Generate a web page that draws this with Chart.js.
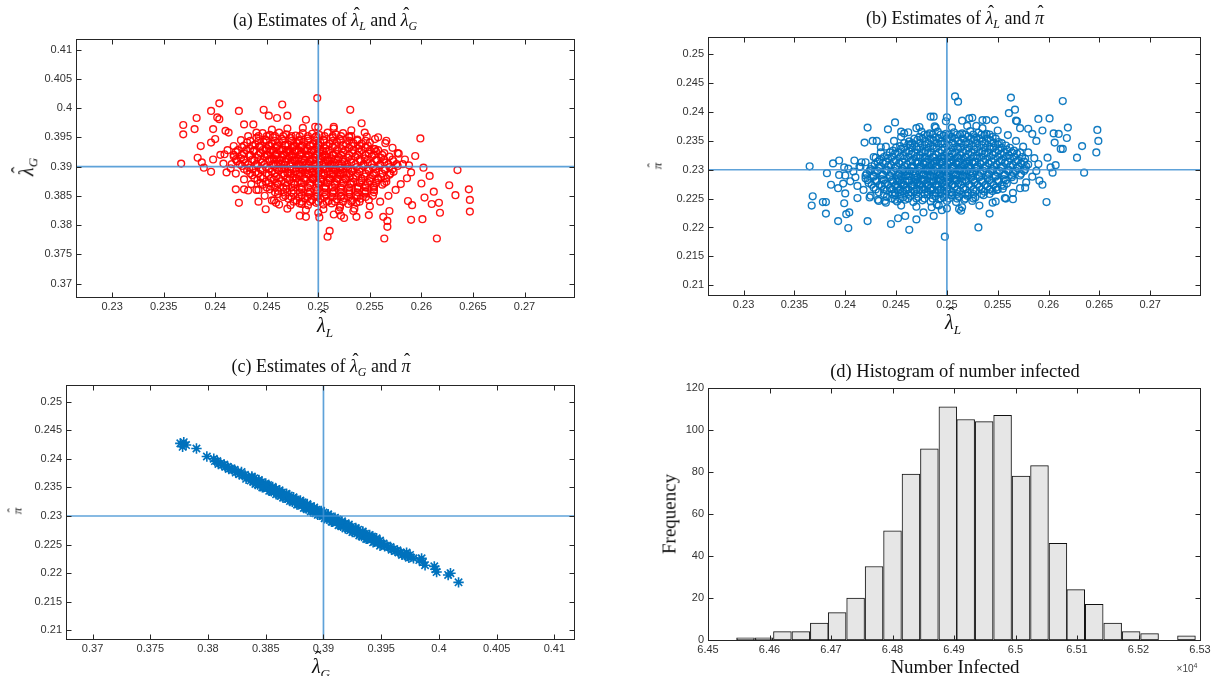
<!DOCTYPE html>
<html><head><meta charset="utf-8">
<script src="https://cdn.jsdelivr.net/npm/chart.js@4"></script>
<style>
body{margin:0;background:#fff;width:1214px;height:676px;overflow:hidden;position:relative}
canvas{position:absolute}
.t{position:absolute;white-space:nowrap;transform:translate(-50%,-50%);font-family:"Liberation Serif","DejaVu Serif",serif;color:#111;line-height:1}
.rot{transform:translate(-50%,-50%) rotate(-90deg)}
.hat{position:relative;font-style:italic}
.hat b{position:absolute;left:0.14em;top:-0.28em;font-weight:normal;font-style:normal}
sub{font-style:italic;font-size:0.66em;vertical-align:-0.32em}
.s{position:absolute;white-space:nowrap;transform:translate(-50%,-50%);font-family:"Liberation Sans",Arial,sans-serif;color:#444}
</style></head><body>
<canvas id="ca"></canvas><canvas id="cb"></canvas><canvas id="cc"></canvas><canvas id="cd"></canvas>

<div class="t" style="left:325px;top:22px;font-size:18px">(a) Estimates of <span class="hat">λ<b>ˆ</b></span><sub>L</sub> and <span class="hat">λ<b>ˆ</b></span><sub>G</sub></div>
<div class="t" style="left:955px;top:20px;font-size:18px">(b) Estimates of <span class="hat">λ<b>ˆ</b></span><sub>L</sub> and <span class="hat">π<b>ˆ</b></span></div>
<div class="t" style="left:321px;top:368px;font-size:18px">(c) Estimates of <span class="hat">λ<b>ˆ</b></span><sub>G</sub> and <span class="hat">π<b>ˆ</b></span></div>
<div class="t" style="left:955px;top:371px;font-size:18.5px">(d) Histogram of number infected</div>

<div class="t" style="left:325px;top:327px;font-size:20px"><span class="hat">λ<b>ˆ</b></span><sub>L</sub></div>
<div class="t rot" style="left:28px;top:167px;font-size:20px"><span class="hat">λ<b>ˆ</b></span><sub>G</sub></div>
<div class="t" style="left:953px;top:324px;font-size:20px"><span class="hat">λ<b>ˆ</b></span><sub>L</sub></div>
<div class="t rot" style="left:657px;top:166px;font-size:13px"><span class="hat">π<b>ˆ</b></span></div>
<div class="t" style="left:321px;top:668px;font-size:20px"><span class="hat">λ<b>ˆ</b></span><sub>G</sub></div>
<div class="t rot" style="left:17px;top:511px;font-size:13px"><span class="hat">π<b>ˆ</b></span></div>
<div class="t" style="left:955px;top:666px;font-size:19px">Number Infected</div>
<div class="t rot" style="left:669px;top:514px;font-size:19px">Frequency</div>
<div class="s" style="left:1187px;top:668px;font-size:10px">×10<sup style="font-size:7px">4</sup></div>

<script>
// ---------- tick labels ----------
const xTicksLamL = [0.23,0.235,0.24,0.245,0.25,0.255,0.26,0.265,0.27];
const ticksLamG  = [0.37,0.375,0.38,0.385,0.39,0.395,0.4,0.405,0.41];
const ticksPi    = [0.21,0.215,0.22,0.225,0.23,0.235,0.24,0.245,0.25];
const xTicksInfected = [64500,64600,64700,64800,64900,65000,65100,65200,65300];
const yTicksFreq = [0,20,40,60,80,100,120];

// ---------- true parameter values (reference lines) ----------
const trueLamL = 0.25, trueLamG = 0.39, truePi = 0.23;

// ---------- histogram (d) ----------
const binCenters = [64561,64591,64621,64651,64681,64710,64740,64770,64800,64830,64860,64890,64919,64949,64979,65009,65039,65069,65098,65128,65158,65188,65218,65248,65278];
const binCounts  = [1,1,4,4,8,13,20,35,52,79,91,111,105,104,107,78,83,46,24,17,8,4,3,0,2];

// ---------- (a) lambda_L vs lambda_G ----------
const ptsA = [
[.2367,.3905],[.2369,.3971],[.2369,.3955],[.2380,.3964],[.2382,.3983],[.2383,.3915],[.2387,.3907],[.2386,.3935],[.2389,.3898],[.2396,.3995],[.2396,.3941],[.2396,.3891],[.2398,.3964],[.2402,.3984],[.2404,.4008],[.2404,.3981],[.2400,.3947],[.2409,.3921],[.2410,.3961],[.2411,.3890],[.2413,.3958],[.2416,.3904],[.2420,.3861],[.2423,.3995],[.2423,.3838],[.2428,.3972],[.2428,.3861],[.2432,.3859],[.2437,.3972],[.2442,.3840],[.2442,.3860],[.2447,.3997],[.2449,.3827],[.2452,.3987],[.2457,.3842],[.2459,.3838],[.2460,.3983],[.2465,.4006],[.2470,.3987],[.2473,.3834],[.2482,.3816],[.2488,.3814],[.2488,.3980],[.2484,.3836],[.2499,.4017],[.2497,.3968],[.2500,.3821],[.2501,.3813],[.2509,.3780],[.2511,.3790],[.2515,.3818],[.2515,.3968],[.2521,.3830],[.2522,.3816],[.2525,.3812],[.2531,.3997],[.2532,.3952],[.2534,.3824],[.2537,.3814],[.2542,.3974],[.2547,.3951],[.2549,.3817],[.2554,.3930],[.2555,.3947],[.2563,.3814],[.2564,.3777],[.2566,.3944],[.2567,.3807],[.2567,.3797],[.2569,.3824],[.2577,.3923],[.2582,.3904],[.2587,.3841],[.2590,.3809],[.2591,.3834],[.2594,.3918],[.2599,.3948],[.2600,.3871],[.2601,.3810],[.2602,.3898],[.2603,.3847],[.2608,.3884],[.2610,.3836],[.2612,.3857],[.2615,.3777],[.2617,.3838],[.2618,.3821],[.2627,.3868],[.2633,.3851],[.2635,.3894],[.2646,.3861],[.2647,.3843],[.2647,.3823],
[.2425,.3945],[.2418,.3935],[.2412,.3928],[.2405,.3920],[.2398,.3912],[.2408,.3905],[.2415,.3897],[.2420,.3888],[.2428,.3878],[.2435,.3870],[.2440,.3860],[.2448,.3850],[.2455,.3842],[.2462,.3835],[.2470,.3828],[.2488,.3826],[.2505,.3827],[.2520,.3825],[.2535,.3828],[.2550,.3832],[.2560,.3840],[.2568,.3850],[.2575,.3860],[.2580,.3870],[.2586,.3880],[.2590,.3890],[.2588,.3902],[.2584,.3912],[.2578,.3922],[.2572,.3932],[.2565,.3940],[.2558,.3950],[.2545,.3958],[.2532,.3962],[.2515,.3965],[.2500,.3967],[.2485,.3966],[.2470,.3965],[.2455,.3963],[.2440,.3958],[.2432,.3952],
[.2446,.3957],[.2453,.3954],[.2462,.3958],[.2469,.3955],[.2478,.3953],[.2485,.3957],[.2494,.3956],[.2501,.3954],[.2509,.3958],[.2517,.3955],[.2524,.3957],
[.2440,.3949],[.2449,.3946],[.2456,.3950],[.2465,.3947],[.2473,.3949],[.2481,.3945],[.2490,.3948],[.2497,.3950],[.2505,.3946],[.2514,.3949],[.2521,.3947],[.2530,.3950],[.2538,.3946],
[.2431,.3941],[.2439,.3938],[.2447,.3942],[.2455,.3939],[.2462,.3941],[.2471,.3937],[.2479,.3940],[.2486,.3942],[.2495,.3938],[.2502,.3941],[.2511,.3939],[.2518,.3942],[.2527,.3938],[.2534,.3940],[.2542,.3939],[.2550,.3941],
[.2426,.3933],[.2434,.3930],[.2443,.3934],[.2450,.3931],[.2459,.3933],[.2466,.3929],[.2475,.3932],[.2483,.3934],[.2490,.3930],[.2499,.3933],[.2507,.3931],[.2514,.3934],[.2523,.3930],[.2530,.3932],[.2539,.3931],[.2546,.3933],[.2555,.3930],
[.2420,.3925],[.2428,.3922],[.2437,.3926],[.2444,.3923],[.2453,.3925],[.2460,.3921],[.2469,.3924],[.2477,.3926],[.2484,.3922],[.2493,.3925],[.2501,.3923],[.2508,.3926],[.2517,.3922],[.2524,.3924],[.2533,.3923],[.2540,.3925],[.2549,.3922],[.2556,.3926],[.2564,.3923],
[.2418,.3917],[.2425,.3914],[.2433,.3918],[.2441,.3915],[.2448,.3917],[.2457,.3913],[.2465,.3916],[.2472,.3918],[.2481,.3914],[.2488,.3917],[.2497,.3915],[.2504,.3918],[.2513,.3914],[.2520,.3916],[.2529,.3915],[.2536,.3917],[.2545,.3914],[.2552,.3918],[.2561,.3915],[.2569,.3917],
[.2421,.3909],[.2429,.3906],[.2438,.3910],[.2445,.3907],[.2453,.3909],[.2461,.3905],[.2468,.3908],[.2477,.3910],[.2485,.3906],[.2492,.3909],[.2501,.3907],[.2509,.3910],[.2516,.3906],[.2525,.3908],[.2532,.3907],[.2541,.3909],[.2548,.3906],[.2557,.3910],[.2564,.3907],[.2573,.3909],
[.2426,.3901],[.2433,.3898],[.2441,.3902],[.2449,.3899],[.2457,.3901],[.2464,.3897],[.2473,.3900],[.2481,.3902],[.2488,.3898],[.2497,.3901],[.2505,.3899],[.2512,.3902],[.2521,.3898],[.2528,.3900],[.2537,.3899],[.2544,.3901],[.2553,.3898],[.2560,.3902],[.2569,.3899],[.2577,.3901],
[.2431,.3893],[.2439,.3890],[.2446,.3894],[.2455,.3891],[.2462,.3893],[.2470,.3889],[.2478,.3892],[.2485,.3894],[.2494,.3890],[.2501,.3893],[.2509,.3891],[.2517,.3894],[.2524,.3890],[.2533,.3892],[.2540,.3891],[.2549,.3893],[.2556,.3890],[.2565,.3894],[.2573,.3891],
[.2436,.3885],[.2444,.3882],[.2452,.3886],[.2459,.3883],[.2467,.3885],[.2475,.3881],[.2482,.3884],[.2491,.3886],[.2498,.3882],[.2506,.3885],[.2514,.3883],[.2521,.3886],[.2530,.3882],[.2537,.3884],[.2545,.3883],[.2553,.3885],[.2561,.3882],[.2569,.3886],
[.2441,.3877],[.2449,.3874],[.2457,.3878],[.2464,.3875],[.2472,.3877],[.2480,.3873],[.2488,.3876],[.2495,.3878],[.2503,.3874],[.2511,.3877],[.2518,.3875],[.2527,.3878],[.2534,.3874],[.2542,.3876],[.2550,.3875],[.2558,.3877],[.2566,.3874],
[.2446,.3869],[.2454,.3866],[.2461,.3870],[.2469,.3867],[.2477,.3869],[.2484,.3865],[.2492,.3868],[.2500,.3870],[.2507,.3866],[.2516,.3869],[.2523,.3867],[.2531,.3870],[.2539,.3866],[.2546,.3868],[.2554,.3867],[.2562,.3869],
[.2453,.3861],[.2461,.3858],[.2469,.3862],[.2476,.3859],[.2484,.3861],[.2492,.3857],[.2499,.3860],[.2507,.3862],[.2515,.3858],[.2522,.3861],[.2530,.3859],[.2538,.3862],[.2546,.3858],[.2554,.3860],
[.2461,.3853],[.2468,.3850],[.2476,.3854],[.2484,.3851],[.2491,.3853],[.2499,.3849],[.2507,.3852],[.2514,.3854],[.2522,.3850],[.2530,.3853],[.2537,.3851],[.2545,.3854],[.2553,.3850],
[.2471,.3845],[.2479,.3842],[.2487,.3846],[.2494,.3843],[.2502,.3845],[.2510,.3841],[.2518,.3844],[.2525,.3846],[.2533,.3842],[.2541,.3845],[.2549,.3843],
[.2482,.3837],[.2490,.3834],[.2498,.3838],[.2505,.3835],[.2513,.3837],[.2521,.3833],[.2529,.3836],[.2537,.3838],
[.2452,.3936],[.2460,.3935],[.2468,.3937],[.2476,.3934],[.2484,.3936],[.2492,.3935],[.2500,.3937],
[.2449,.3928],[.2457,.3927],[.2465,.3929],[.2473,.3926],[.2481,.3928],[.2489,.3927],[.2497,.3929],[.2505,.3926],
[.2451,.3920],[.2459,.3919],[.2467,.3921],[.2475,.3918],[.2483,.3920],[.2491,.3919],[.2499,.3921],[.2507,.3918],[.2515,.3920],
[.2455,.3912],[.2463,.3911],[.2471,.3913],[.2479,.3910],[.2487,.3912],[.2495,.3911],[.2503,.3913],[.2511,.3910],[.2519,.3912],
[.2459,.3904],[.2467,.3903],[.2475,.3905],[.2483,.3902],[.2491,.3904],[.2499,.3903],[.2507,.3905],[.2515,.3902],[.2523,.3904],
[.2465,.3896],[.2473,.3895],[.2481,.3897],[.2489,.3894],[.2497,.3896],[.2505,.3895],[.2513,.3897],[.2521,.3894],[.2529,.3896],
[.2471,.3888],[.2479,.3887],[.2487,.3889],[.2495,.3886],[.2503,.3888],[.2511,.3887],[.2519,.3889],[.2527,.3886],
[.2479,.3880],[.2487,.3879],[.2495,.3881],[.2503,.3878],[.2511,.3880],[.2519,.3879]
];
// dense core of (a): rows of lambda_G with the lambda_L values read along each row
const coreRowsA = [
[.3952,[.2442,.2450,.2458,.2466,.2474,.2482,.2490,.2498,.2506,.2514,.2522,.2530]],
[.3944,[.2434,.2442,.2450,.2458,.2466,.2474,.2482,.2490,.2498,.2506,.2514,.2522,.2530,.2538,.2546]],
[.3936,[.2428,.2436,.2444,.2452,.2460,.2468,.2476,.2484,.2492,.2500,.2508,.2516,.2524,.2532,.2540,.2548]],
[.3928,[.2422,.2430,.2438,.2446,.2454,.2462,.2470,.2478,.2486,.2494,.2502,.2510,.2518,.2526,.2534,.2542,.2550,.2558]],
[.3920,[.2418,.2426,.2434,.2442,.2450,.2458,.2466,.2474,.2482,.2490,.2498,.2506,.2514,.2522,.2530,.2538,.2546,.2554,.2562]],
[.3912,[.2420,.2428,.2436,.2444,.2452,.2460,.2468,.2476,.2484,.2492,.2500,.2508,.2516,.2524,.2532,.2540,.2548,.2556,.2564,.2572]],
[.3904,[.2424,.2432,.2440,.2448,.2456,.2464,.2472,.2480,.2488,.2496,.2504,.2512,.2520,.2528,.2536,.2544,.2552,.2560,.2568,.2576]],
[.3896,[.2428,.2436,.2444,.2452,.2460,.2468,.2476,.2484,.2492,.2500,.2508,.2516,.2524,.2532,.2540,.2548,.2556,.2564,.2572]],
[.3888,[.2434,.2442,.2450,.2458,.2466,.2474,.2482,.2490,.2498,.2506,.2514,.2522,.2530,.2538,.2546,.2554,.2562,.2570]],
[.3880,[.2438,.2446,.2454,.2462,.2470,.2478,.2486,.2494,.2502,.2510,.2518,.2526,.2534,.2542,.2550,.2558,.2566]],
[.3872,[.2444,.2452,.2460,.2468,.2476,.2484,.2492,.2500,.2508,.2516,.2524,.2532,.2540,.2548,.2556,.2564]],
[.3864,[.2450,.2458,.2466,.2474,.2482,.2490,.2498,.2506,.2514,.2522,.2530,.2538,.2546,.2554]],
[.3856,[.2458,.2466,.2474,.2482,.2490,.2498,.2506,.2514,.2522,.2530,.2538,.2546,.2554]],
[.3848,[.2466,.2474,.2482,.2490,.2498,.2506,.2514,.2522,.2530,.2538,.2546]],
[.3840,[.2476,.2484,.2492,.2500,.2508,.2516,.2524,.2532,.2540]]
];

// ---------- (b) lambda_L vs pi ----------
const ptsB = [
[.2365,.2306],[.2368,.2254],[.2367,.2238],[.2378,.2244],[.2381,.2244],[.2381,.2224],[.2382,.2294],[.2386,.2274],[.2388,.2311],[.2394,.2316],[.2393,.2211],[.2394,.2291],[.2393,.2268],[.2398,.2276],[.2399,.2242],[.2400,.2259],[.2401,.2223],[.2403,.2199],[.2404,.2226],[.2403,.2302],[.2399,.2304],[.2409,.2316],[.2410,.2287],[.2412,.2251],[.2414,.2305],[.2416,.2313],[.2419,.2347],[.2422,.2373],[.2422,.2211],[.2424,.2252],[.2427,.2350],[.2430,.2321],[.2431,.2350],[.2433,.2246],[.2435,.2339],[.2439,.2246],[.2442,.2370],[.2445,.2206],[.2449,.2382],[.2449,.2248],[.2452,.2216],[.2455,.2366],[.2458,.2363],[.2459,.2220],[.2463,.2196],[.2464,.2343],[.2470,.2214],[.2473,.2374],[.2475,.2366],[.2477,.2226],[.2484,.2392],[.2487,.2392],[.2487,.2220],[.2489,.2373],[.2490,.2240],[.2492,.2238],[.2495,.2230],[.2498,.2184],[.2500,.2391],[.2499,.2384],[.2508,.2427],[.2511,.2418],[.2512,.2232],[.2514,.2229],[.2515,.2385],[.2522,.2389],[.2525,.2390],[.2529,.2376],[.2531,.2200],[.2535,.2386],[.2539,.2386],[.2542,.2224],[.2547,.2386],[.2548,.2245],[.2549,.2265],[.2555,.2267],[.2557,.2251],[.2561,.2398],[.2563,.2425],[.2565,.2249],[.2567,.2404],[.2568,.2385],[.2569,.2384],[.2572,.2372],[.2577,.2269],[.2580,.2371],[.2584,.2362],[.2588,.2350],[.2590,.2388],[.2591,.2281],[.2594,.2274],[.2594,.2368],[.2599,.2321],[.2598,.2244],[.2601,.2389],[.2602,.2304],[.2604,.2295],[.2605,.2363],[.2606,.2347],[.2607,.2308],[.2610,.2362],[.2612,.2336],[.2614,.2419],[.2614,.2336],[.2618,.2355],[.2619,.2373],[.2628,.2321],[.2633,.2341],[.2635,.2295],[.2647,.2330],[.2648,.2369],[.2649,.2350],
[.2425,.2255],[.2418,.2265],[.2412,.2272],[.2405,.2280],[.2400,.2290],[.2408,.2297],[.2415,.2305],[.2420,.2313],[.2428,.2322],[.2435,.2330],[.2440,.2340],[.2448,.2350],[.2455,.2357],[.2462,.2365],[.2470,.2372],[.2488,.2375],[.2505,.2373],[.2520,.2376],[.2535,.2372],[.2550,.2368],[.2560,.2360],[.2568,.2350],[.2575,.2340],[.2580,.2330],[.2586,.2320],[.2590,.2310],[.2588,.2298],[.2584,.2288],[.2578,.2278],[.2572,.2268],[.2565,.2260],[.2558,.2250],[.2545,.2243],[.2532,.2238],[.2515,.2235],[.2500,.2233],[.2485,.2235],[.2470,.2236],[.2455,.2238],[.2440,.2243],[.2432,.2248],
[.2451,.2245],[.2459,.2248],[.2467,.2244],[.2476,.2247],[.2484,.2245],[.2492,.2249],[.2500,.2246],[.2509,.2244],[.2517,.2248],[.2525,.2246],
[.2441,.2253],[.2449,.2256],[.2457,.2252],[.2464,.2255],[.2472,.2253],[.2481,.2257],[.2489,.2254],[.2497,.2252],[.2505,.2256],[.2512,.2253],[.2520,.2255],[.2528,.2252],[.2536,.2256],
[.2433,.2261],[.2441,.2264],[.2449,.2260],[.2457,.2263],[.2465,.2261],[.2473,.2265],[.2481,.2262],[.2489,.2260],[.2497,.2264],[.2505,.2261],[.2513,.2263],[.2521,.2260],[.2529,.2264],[.2537,.2262],[.2545,.2263],
[.2428,.2269],[.2436,.2272],[.2444,.2268],[.2452,.2271],[.2460,.2269],[.2468,.2273],[.2476,.2270],[.2484,.2268],[.2492,.2272],[.2500,.2269],[.2508,.2271],[.2516,.2268],[.2524,.2272],[.2532,.2270],[.2540,.2271],[.2548,.2269],[.2556,.2272],
[.2423,.2277],[.2431,.2280],[.2439,.2276],[.2447,.2279],[.2455,.2277],[.2463,.2281],[.2471,.2278],[.2479,.2276],[.2487,.2280],[.2495,.2277],[.2503,.2279],[.2511,.2276],[.2519,.2280],[.2527,.2278],[.2535,.2279],[.2543,.2277],[.2551,.2280],[.2559,.2276],
[.2420,.2285],[.2428,.2288],[.2436,.2284],[.2444,.2287],[.2452,.2285],[.2460,.2289],[.2468,.2286],[.2476,.2284],[.2484,.2288],[.2492,.2285],[.2500,.2287],[.2508,.2284],[.2516,.2288],[.2524,.2286],[.2532,.2287],[.2540,.2285],[.2548,.2288],[.2556,.2284],[.2564,.2287],
[.2421,.2293],[.2429,.2296],[.2437,.2292],[.2445,.2295],[.2453,.2293],[.2461,.2297],[.2469,.2294],[.2477,.2292],[.2485,.2296],[.2493,.2293],[.2501,.2295],[.2509,.2292],[.2517,.2296],[.2525,.2294],[.2533,.2295],[.2541,.2293],[.2549,.2296],[.2557,.2292],[.2565,.2295],[.2573,.2293],
[.2425,.2301],[.2433,.2304],[.2441,.2300],[.2449,.2303],[.2457,.2301],[.2465,.2305],[.2473,.2302],[.2481,.2300],[.2489,.2304],[.2497,.2301],[.2505,.2303],[.2513,.2300],[.2521,.2304],[.2529,.2302],[.2537,.2303],[.2545,.2301],[.2553,.2304],[.2561,.2300],[.2569,.2303],[.2577,.2301],
[.2429,.2309],[.2437,.2312],[.2445,.2308],[.2453,.2311],[.2461,.2309],[.2469,.2313],[.2477,.2310],[.2485,.2308],[.2493,.2312],[.2501,.2309],[.2509,.2311],[.2517,.2308],[.2525,.2312],[.2533,.2310],[.2541,.2311],[.2549,.2309],[.2557,.2312],[.2565,.2308],[.2573,.2311],[.2580,.2309],
[.2434,.2317],[.2442,.2320],[.2450,.2316],[.2458,.2319],[.2466,.2317],[.2474,.2321],[.2482,.2318],[.2490,.2316],[.2498,.2320],[.2506,.2317],[.2514,.2319],[.2522,.2316],[.2530,.2320],[.2538,.2318],[.2546,.2319],[.2554,.2317],[.2562,.2320],[.2570,.2316],[.2577,.2319],
[.2441,.2325],[.2449,.2328],[.2457,.2324],[.2465,.2327],[.2473,.2325],[.2481,.2329],[.2489,.2326],[.2497,.2324],[.2505,.2328],[.2513,.2325],[.2521,.2327],[.2529,.2324],[.2537,.2328],[.2545,.2326],[.2553,.2327],[.2561,.2325],[.2569,.2328],
[.2447,.2333],[.2455,.2336],[.2463,.2332],[.2471,.2335],[.2479,.2333],[.2487,.2337],[.2495,.2334],[.2503,.2332],[.2511,.2336],[.2519,.2333],[.2527,.2335],[.2535,.2332],[.2543,.2336],[.2551,.2334],[.2559,.2335],[.2566,.2333],
[.2454,.2341],[.2462,.2344],[.2470,.2340],[.2478,.2343],[.2486,.2341],[.2494,.2345],[.2502,.2342],[.2510,.2340],[.2518,.2344],[.2526,.2341],[.2534,.2343],[.2542,.2340],[.2550,.2344],[.2558,.2342],
[.2463,.2349],[.2471,.2352],[.2479,.2348],[.2487,.2351],[.2495,.2349],[.2503,.2353],[.2511,.2350],[.2519,.2348],[.2527,.2352],[.2535,.2349],[.2543,.2351],[.2551,.2348],
[.2473,.2357],[.2481,.2360],[.2489,.2356],[.2497,.2359],[.2505,.2357],[.2513,.2361],[.2521,.2358],[.2529,.2356],[.2537,.2360],[.2545,.2357],
[.2483,.2363],[.2491,.2366],[.2499,.2362],[.2507,.2365],[.2515,.2363],[.2523,.2367],[.2531,.2364],[.2539,.2362],
[.2452,.2264],[.2460,.2265],[.2468,.2263],[.2476,.2266],[.2484,.2264],[.2492,.2265],[.2500,.2263],
[.2449,.2272],[.2457,.2273],[.2465,.2271],[.2473,.2274],[.2481,.2272],[.2489,.2273],[.2497,.2271],[.2505,.2274],
[.2451,.2280],[.2459,.2281],[.2467,.2279],[.2475,.2282],[.2483,.2280],[.2491,.2281],[.2499,.2279],[.2507,.2282],[.2515,.2280],
[.2455,.2288],[.2463,.2289],[.2471,.2287],[.2479,.2290],[.2487,.2288],[.2495,.2289],[.2503,.2287],[.2511,.2290],[.2519,.2288],
[.2459,.2296],[.2467,.2297],[.2475,.2295],[.2483,.2298],[.2491,.2296],[.2499,.2297],[.2507,.2295],[.2515,.2298],[.2523,.2296],
[.2465,.2304],[.2473,.2305],[.2481,.2303],[.2489,.2306],[.2497,.2304],[.2505,.2305],[.2513,.2303],[.2521,.2306],[.2529,.2304],
[.2471,.2312],[.2479,.2313],[.2487,.2311],[.2495,.2314],[.2503,.2312],[.2511,.2313],[.2519,.2311],[.2527,.2314],
[.2479,.2320],[.2487,.2321],[.2495,.2319],[.2503,.2322],[.2511,.2320],[.2519,.2321]
];
// dense core of (b): rows of pi with the lambda_L values read along each row
const coreRowsB = [
[.2250,[.2446,.2454,.2462,.2470,.2478,.2486,.2494,.2502,.2510,.2518,.2526]],
[.2258,[.2438,.2446,.2454,.2462,.2470,.2478,.2486,.2494,.2502,.2510,.2518,.2526,.2534,.2542]],
[.2266,[.2430,.2438,.2446,.2454,.2462,.2470,.2478,.2486,.2494,.2502,.2510,.2518,.2526,.2534,.2542,.2550]],
[.2274,[.2426,.2434,.2442,.2450,.2458,.2466,.2474,.2482,.2490,.2498,.2506,.2514,.2522,.2530,.2538,.2546,.2554]],
[.2282,[.2422,.2430,.2438,.2446,.2454,.2462,.2470,.2478,.2486,.2494,.2502,.2510,.2518,.2526,.2534,.2542,.2550,.2558,.2566]],
[.2290,[.2420,.2428,.2436,.2444,.2452,.2460,.2468,.2476,.2484,.2492,.2500,.2508,.2516,.2524,.2532,.2540,.2548,.2556,.2564,.2572]],
[.2298,[.2424,.2432,.2440,.2448,.2456,.2464,.2472,.2480,.2488,.2496,.2504,.2512,.2520,.2528,.2536,.2544,.2552,.2560,.2568,.2576]],
[.2306,[.2426,.2434,.2442,.2450,.2458,.2466,.2474,.2482,.2490,.2498,.2506,.2514,.2522,.2530,.2538,.2546,.2554,.2562,.2570,.2578]],
[.2314,[.2432,.2440,.2448,.2456,.2464,.2472,.2480,.2488,.2496,.2504,.2512,.2520,.2528,.2536,.2544,.2552,.2560,.2568,.2576]],
[.2322,[.2438,.2446,.2454,.2462,.2470,.2478,.2486,.2494,.2502,.2510,.2518,.2526,.2534,.2542,.2550,.2558,.2566,.2574]],
[.2330,[.2444,.2452,.2460,.2468,.2476,.2484,.2492,.2500,.2508,.2516,.2524,.2532,.2540,.2548,.2556,.2564,.2572]],
[.2338,[.2450,.2458,.2466,.2474,.2482,.2490,.2498,.2506,.2514,.2522,.2530,.2538,.2546,.2554,.2562]],
[.2346,[.2458,.2466,.2474,.2482,.2490,.2498,.2506,.2514,.2522,.2530,.2538,.2546,.2554]],
[.2354,[.2468,.2476,.2484,.2492,.2500,.2508,.2516,.2524,.2532,.2540,.2548]],
[.2361,[.2478,.2486,.2494,.2502,.2510,.2518,.2526,.2534,.2542]]
];

// ---------- (c) lambda_G vs pi ----------
const ptsC = [
[.3776,.2427],[.3779,.2429],[.3781,.2424],[.3778,.2421],[.3790,.2418],[.3799,.2404],[.3805,.2400],
[.3806,.2396],[.3808,.2396],[.3809,.2391],[.3811,.2392],[.3812,.2389],[.3814,.2390],[.3815,.2386],[.3817,.2386],[.3818,.2382],[.3820,.2383],
[.3821,.2381],[.3823,.2381],[.3824,.2376],[.3826,.2377],[.3827,.2373],[.3829,.2377],[.3830,.2371],[.3832,.2372],[.3833,.2365],[.3835,.2368],
[.3836,.2366],[.3838,.2367],[.3839,.2360],[.3841,.2362],[.3842,.2358],[.3844,.2362],[.3845,.2356],[.3847,.2357],[.3848,.2350],[.3850,.2353],
[.3851,.2351],[.3853,.2352],[.3854,.2345],[.3856,.2347],[.3857,.2343],[.3859,.2347],[.3860,.2341],[.3862,.2342],[.3863,.2335],[.3865,.2338],
[.3866,.2336],[.3868,.2337],[.3869,.2330],[.3871,.2332],[.3872,.2328],[.3874,.2332],[.3875,.2326],[.3877,.2327],[.3878,.2320],[.3880,.2323],
[.3881,.2321],[.3883,.2322],[.3884,.2315],[.3886,.2317],[.3887,.2313],[.3889,.2317],[.3890,.2311],[.3892,.2312],[.3893,.2305],[.3895,.2308],
[.3896,.2306],[.3898,.2307],[.3899,.2300],[.3901,.2302],[.3902,.2298],[.3904,.2302],[.3905,.2296],[.3907,.2297],[.3908,.2290],[.3910,.2293],
[.3911,.2291],[.3913,.2292],[.3914,.2285],[.3916,.2287],[.3917,.2283],[.3919,.2287],[.3920,.2281],[.3922,.2282],[.3923,.2275],[.3925,.2278],
[.3926,.2276],[.3928,.2277],[.3929,.2270],[.3931,.2272],[.3932,.2268],[.3934,.2272],[.3935,.2266],[.3937,.2267],[.3938,.2260],[.3940,.2263],
[.3941,.2261],[.3943,.2262],[.3944,.2255],[.3946,.2257],[.3947,.2253],[.3949,.2257],[.3950,.2251],[.3952,.2252],[.3953,.2247],[.3955,.2248],
[.3956,.2246],[.3958,.2246],[.3959,.2241],[.3961,.2242],[.3962,.2239],[.3964,.2240],[.3965,.2236],[.3967,.2236],[.3968,.2232],[.3970,.2233],
[.3971,.2231],[.3973,.2230],[.3974,.2227],
[.3837,.2362],[.3840,.2366],[.3843,.2355],[.3846,.2359],[.3849,.2351],[.3852,.2354],[.3855,.2343],[.3858,.2346],[.3861,.2338],[.3864,.2341],
[.3867,.2332],[.3870,.2336],[.3873,.2325],[.3876,.2329],[.3879,.2321],[.3882,.2324],[.3885,.2313],[.3888,.2316],[.3891,.2308],[.3894,.2311],
[.3897,.2302],[.3900,.2306],[.3903,.2295],[.3906,.2299],[.3909,.2291],[.3912,.2294],[.3915,.2283],[.3918,.2286],[.3921,.2278],[.3924,.2281],
[.3927,.2272],[.3930,.2276],[.3933,.2265],[.3936,.2269],[.3939,.2261],[.3942,.2264],
[.3838,.2369],[.3841,.2356],[.3844,.2363],[.3847,.2350],[.3850,.2357],[.3853,.2344],[.3856,.2351],[.3859,.2338],[.3862,.2345],[.3865,.2332],
[.3868,.2339],[.3871,.2326],[.3874,.2333],[.3877,.2320],[.3880,.2327],[.3883,.2314],[.3886,.2321],[.3889,.2308],[.3892,.2315],[.3895,.2302],
[.3898,.2309],[.3901,.2296],[.3904,.2303],[.3907,.2290],[.3910,.2297],[.3913,.2284],[.3916,.2291],[.3919,.2278],[.3922,.2285],[.3925,.2272],
[.3928,.2279],[.3931,.2266],[.3934,.2273],[.3937,.2260],[.3940,.2267],[.3943,.2254],[.3946,.2261],[.3949,.2248],
[.3972,.2236],[.3975,.2232],[.3978,.2226],[.3983,.2223],[.3985,.2226],[.3986,.2219],[.3988,.2214],[.3996,.2212],[.3997,.2207],[.3998,.2202],[.4008,.2197],[.4010,.2200],[.4017,.2184]
];

// ---------- rendering ----------
Chart.defaults.font.family = '"Liberation Sans", Arial, sans-serif';
Chart.defaults.font.size = 11;
Chart.defaults.color = '#333';

const REF_COLOR = 'rgba(66,146,210,0.85)';
const framePlugin = {
  id: 'frame',
  afterDatasetsDraw(chart, args, o) {
    const {ctx, chartArea: a, scales: {x, y}} = chart;
    ctx.save();
    ctx.strokeStyle = REF_COLOR; ctx.lineWidth = 1.7;
    if (o.refX != null) { const px = x.getPixelForValue(o.refX); ctx.beginPath(); ctx.moveTo(px, a.top); ctx.lineTo(px, a.bottom); ctx.stroke(); }
    if (o.refY != null) { const py = y.getPixelForValue(o.refY); ctx.beginPath(); ctx.moveTo(a.left, py); ctx.lineTo(a.right, py); ctx.stroke(); }
    ctx.restore();
  },
  afterDraw(chart) {
    const {ctx, chartArea: a, scales: {x, y}} = chart;
    ctx.save();
    ctx.strokeStyle = '#262626'; ctx.lineWidth = 1;
    const L = Math.round(a.left) + 0.5, T = Math.round(a.top) + 0.5, R = Math.round(a.right) + 0.5, B = Math.round(a.bottom) + 0.5;
    ctx.strokeRect(L, T, R - L, B - T);
    ctx.beginPath();
    const len = 5;
    x.ticks.forEach(t => { const px = Math.round(x.getPixelForValue(t.value)) + 0.5; ctx.moveTo(px, B); ctx.lineTo(px, B - len); ctx.moveTo(px, T); ctx.lineTo(px, T + len); });
    y.ticks.forEach(t => { const py = Math.round(y.getPixelForValue(t.value)) + 0.5; ctx.moveTo(L, py); ctx.lineTo(L + len, py); ctx.moveTo(R, py); ctx.lineTo(R - len, py); });
    ctx.stroke();
    ctx.restore();
  }
};

const fmtDec = v => String(parseFloat(Number(v).toFixed(3)));
const fmtInf = v => String(parseFloat((v / 1e4).toFixed(2)));
const fmtInt = v => String(v);

function axis(min, max, ticks, fmt, isY) {
  return {
    type: 'linear', min, max, offset: false,
    grid: {display: false, drawTicks: false}, border: {display: false},
    ticks: {padding: isY ? 4 : 3, autoSkip: false, maxRotation: 0, callback: fmt},
    afterBuildTicks: s => { s.ticks = ticks.map(v => ({value: v})); },
    afterFit: s => { if (isY) s.width = 60; else s.height = 30; s.paddingLeft = s.paddingRight = s.paddingTop = s.paddingBottom = 0; }
  };
}
function place(id, box) {
  const c = document.getElementById(id);
  c.width = box.w + 85; c.height = box.h + 45;
  c.style.left = (box.l - 60) + 'px'; c.style.top = (box.t - 15) + 'px';
  return c;
}
const baseOpts = (xs, ys, frame) => ({
  responsive: false, animation: false, events: [],
  layout: {padding: {left: 0, top: 15, right: 25, bottom: 0}},
  plugins: {legend: {display: false}, tooltip: {enabled: false}, frame},
  scales: {x: xs, y: ys}
});
const rowsToPts = rows => rows.flatMap(([yv, xs]) => xs.map(xv => [xv, yv]));
function scatter(id, box, pts, xs, ys, style, frame) {
  new Chart(place(id, box), {
    type: 'scatter',
    data: {datasets: [Object.assign({data: pts.map(p => ({x: p[0], y: p[1]})), showLine: false, pointBackgroundColor: 'rgba(0,0,0,0)', pointHoverRadius: 0}, style)]},
    options: baseOpts(xs, ys, frame),
    plugins: [framePlugin]
  });
}

const boxA = {l: 76, t: 39, w: 498, h: 258};
const boxB = {l: 708, t: 37, w: 492, h: 258};
const boxC = {l: 66, t: 385, w: 508, h: 254};
const boxD = {l: 708, t: 388, w: 492, h: 252};

scatter('ca', boxA, ptsA.concat(rowsToPts(coreRowsA)),
  axis(0.2265, 0.2748, xTicksLamL, fmtDec, false), axis(0.3677, 0.4118, ticksLamG, fmtDec, true),
  {pointStyle: 'circle', pointRadius: 3.4, pointBorderWidth: 1.4, pointBorderColor: 'rgba(255,0,0,0.92)'},
  {refX: trueLamL, refY: trueLamG});
scatter('cb', boxB, ptsB.concat(rowsToPts(coreRowsB)),
  axis(0.2265, 0.2749, xTicksLamL, fmtDec, false), axis(0.2083, 0.2530, ticksPi, fmtDec, true),
  {pointStyle: 'circle', pointRadius: 3.4, pointBorderWidth: 1.4, pointBorderColor: 'rgba(0,114,189,0.92)'},
  {refX: trueLamL, refY: truePi});
scatter('cc', boxC, ptsC,
  axis(0.3677, 0.4117, ticksLamG, fmtDec, false), axis(0.2085, 0.2529, ticksPi, fmtDec, true),
  {pointStyle: 'star', pointRadius: 5.2, pointBorderWidth: 1.6, pointBorderColor: '#0072bd'},
  {refX: trueLamG, refY: truePi});

new Chart(place('cd', boxD), {
  type: 'bar',
  data: {datasets: [{
    data: binCenters.map((c, i) => ({x: c, y: binCounts[i]})),
    backgroundColor: '#e6e6e6', borderColor: '#111', borderWidth: 1, borderSkipped: false,
    barPercentage: 1, categoryPercentage: 1
  }]},
  options: baseOpts(axis(64500, 65300, xTicksInfected, fmtInf, false), axis(0, 120, yTicksFreq, fmtInt, true), {}),
  plugins: [framePlugin]
});
</script>
</body></html>
